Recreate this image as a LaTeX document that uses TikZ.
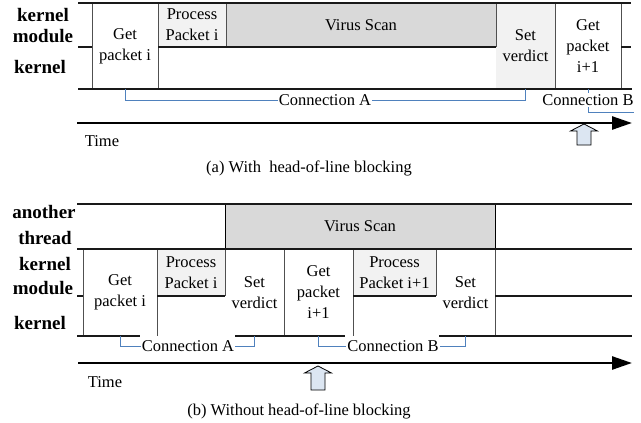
\documentclass[tikz,border=0pt]{standalone}
\usepackage{fontspec}
\setmainfont{Liberation Serif}
\usetikzlibrary{arrows.meta}
\definecolor{lightfill}{HTML}{F2F2F2}
\definecolor{scanfill}{HTML}{D9D9D9}
\definecolor{connblue}{HTML}{4F81BD}
\definecolor{arrowfill}{HTML}{DCE6F2}
\definecolor{edgegray}{HTML}{505050}
\begin{document}
\begin{tikzpicture}[x=1pt,y=-1pt,
  box/.style={inner sep=0pt, outer sep=0pt, anchor=north west, align=center,
    font=\fontsize{16.5}{21}\selectfont},
  rule/.style={line width=1.8pt, black!90},
  edge/.style={line width=0.9pt, edgegray},
  conn/.style={line width=0.8pt, connblue},
  lbl/.style={font=\fontsize{19}{19}\selectfont\bfseries, inner sep=0pt},
  ctext/.style={font=\fontsize{16.5}{18}\selectfont, fill=white, inner sep=1pt},
  plain/.style={font=\fontsize{16.5}{18}\selectfont, inner sep=0pt},
  timeline/.style={line width=2.6pt, black, -{Triangle[length=20pt,width=13pt]}},
  hollow/.style={draw=black, line width=0.8pt, fill=arrowfill, line join=miter}
]
\fill[white] (0,0) rectangle (641,423);
\useasboundingbox (0,0) rectangle (641,423);

% ---------------- (a) with head-of-line blocking ----------------
\node[box, fill=white, minimum width=66pt, minimum height=86pt] (tgp) at (92,3) {Get\\packet i};
\node[box, fill=lightfill, minimum width=68pt, minimum height=44pt] (tpp) at (158,3) {Process\\Packet i};
\node[box, fill=scanfill, minimum width=270pt, minimum height=44pt] (tvs) at (226,3) {Virus Scan};
\node[box, fill=lightfill, minimum width=59pt, minimum height=86pt] (tsv) at (496,3) {Set\\verdict};
\node[box, fill=white, minimum width=66pt, minimum height=86pt] (tgq) at (555,3) {Get\\packet\\i+1};

% box sides
\draw[edge] (tgp.north west) -- (tgp.south west);
\draw[edge] (tgp.north east) -- (tgp.south east);
\draw[edge] (tvs.north east) -- (tvs.south east);
\draw[edge] (tpp.north east) -- (tpp.south east);
\draw[edge] (tsv.north east) -- (tsv.south east);
\draw[edge] (tgq.north east) -- (tgq.south east);

% lane rules
\draw[rule] (78,3) -- (631,3);
\draw[rule] (78,89) -- (632,89);
\draw[rule] (78,47) -- (tgp.west |- 78,47);
\draw[rule] (tpp.south west) -- (tvs.south east);
\draw[rule] (tgq.east |- 0,47) -- (631,47);

\node[lbl] (ta1) at (43,15) {kernel};
\node[lbl] (ta2) at (43,36) {module};
\node[lbl] (ta3) at (40,67) {kernel};

% connections
\node[ctext] (tca) at (325,100) {Connection A};
\draw[conn] (tgp.south) |- (tca.west);
\draw[conn] (tsv.south) |- (tca.east);
\coordinate (tcbend) at (634,112);
\draw[conn] (tgq.south) |- (tcbend);
\node[ctext] (tcb) at (588,100) {Connection B};

% time axis
\coordinate (tt0) at (77,123);
\coordinate (tt1) at (632,123);
\draw[timeline] (tt0) -- (tt1);
\node[plain] (ttime) at (102,141) {Time};
\coordinate (tup) at (584,124);
\draw[hollow] (tup) -- ++(13.5,7) -- ++(-6.5,0) -- ++(0,14) -- ++(-14,0) -- ++(0,-14) -- ++(-6.5,0) -- cycle;
\node[plain] (tcap) at (309,168) {(a) With\ \ head-of-line blocking};

% ---------------- (b) without head-of-line blocking ----------------
\node[box, fill=scanfill, draw=black, line width=0.9pt, minimum width=270pt, minimum height=45pt] (bvs) at (225,204) {Virus Scan};
\node[box, fill=white, minimum width=74pt, minimum height=87pt] (bgp) at (83,249) {Get\\packet i};
\node[box, fill=lightfill, minimum width=68pt, minimum height=47pt] (bpp) at (157,249) {Process\\Packet i};
\node[box, fill=white, minimum width=59pt, minimum height=87pt] (bsv) at (225,249) {Set\\verdict};
\node[box, fill=white, minimum width=69pt, minimum height=87pt] (bgq) at (284,249) {Get\\packet\\i+1};
\node[box, fill=lightfill, minimum width=83pt, minimum height=47pt] (bpq) at (353,249) {Process\\Packet i+1};
\node[box, fill=white, minimum width=59pt, minimum height=87pt] (bsw) at (436,249) {Set\\verdict};

\draw[edge] (bgp.north west) -- (bgp.south west);
\draw[edge] (bgp.north east) -- (bgp.south east);
\draw[edge] (bpp.north east) -- (bpp.south east);
\draw[edge] (bsv.north east) -- (bsv.south east);
\draw[edge] (bgq.north east) -- (bgq.south east);
\draw[edge] (bpq.north east) -- (bpq.south east);
\draw[edge] (bsw.north east) -- (bsw.south east);

\draw[rule] (77,204) -- (632,204);
\draw[rule] (77,249) -- (632,249);
\draw[rule] (77,296) -- (bgp.west |- 0,296);
\draw[rule] (bpp.south west) -- (bpp.south east);
\draw[rule] (bpq.south west) -- (bpq.south east);
\draw[rule] (bsw.east |- 0,296) -- (632,296);
\draw[rule] (77,336) -- (140,336);
\draw[rule] (235,336) -- (345,336);
\draw[rule] (439,336) -- (632,336);

\node[lbl] (ba1) at (44,212) {another};
\node[lbl] (ba2) at (45,238) {thread};
\node[lbl] (ba3) at (45,264) {kernel};
\node[lbl] (ba4) at (43,288) {module};
\node[lbl] (ba5) at (40,323) {kernel};

\node[ctext] (bca) at (188,346) {Connection A};
\draw[conn] (bgp.south) |- (bca.west);
\draw[conn] (bsv.south) |- (bca.east);
\node[ctext] (bcb) at (393,346) {Connection B};
\draw[conn] (bgq.south) |- (bcb.west);
\draw[conn] (bsw.south) |- (bcb.east);

\coordinate (bt0) at (78,363);
\coordinate (bt1) at (632,363);
\draw[timeline] (bt0) -- (bt1);
\node[plain] (btime) at (105,382) {Time};
\coordinate (bup) at (318,366);
\draw[hollow] (bup) -- ++(13.5,7) -- ++(-6.5,0) -- ++(0,17) -- ++(-14,0) -- ++(0,-17) -- ++(-6.5,0) -- cycle;
\node[plain] (bcap) at (299,411) {(b) Without head-of-line blocking};
\end{tikzpicture}
\end{document}
